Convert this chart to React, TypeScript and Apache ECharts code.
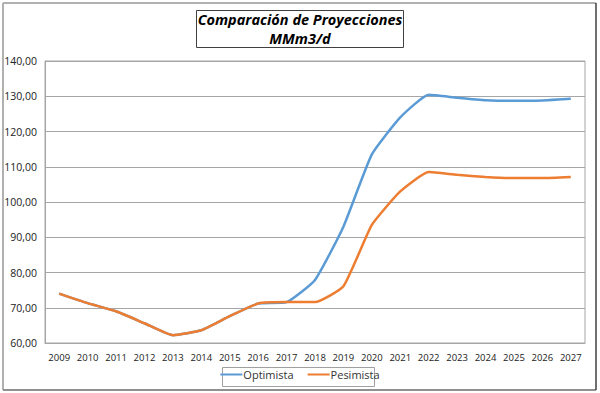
import React, { useEffect, useRef } from "react";
import * as echarts from "echarts";

const years = ["2009","2010","2011","2012","2013","2014","2015","2016","2017","2018","2019","2020","2021","2022","2023","2024","2025","2026","2027"];
const optimista = [74.0, 71.3, 69.0, 65.6, 62.2, 63.6, 67.6, 71.2, 71.6, 77.9, 93.0, 113.5, 124.0, 130.4, 129.6, 128.9, 128.7, 128.8, 129.3];
const pesimista = [74.0, 71.3, 69.0, 65.6, 62.2, 63.6, 67.6, 71.2, 71.6, 71.6, 76.1, 93.5, 103.0, 108.5, 107.7, 107.1, 106.8, 106.8, 107.1];
const titleLines = ["Comparación de Proyecciones", "MMm3/d"];
const seriesNames = ["Optimista", "Pesimista"];

export default function App() {
  const ref = useRef<HTMLDivElement>(null);
  useEffect(() => {
    if (!ref.current) return;
    const chart = echarts.init(ref.current, null, { renderer: "svg" });
    const font = "'Open Sans', 'Liberation Sans', sans-serif";
    const titleFont = "italic bold 14.5px 'Open Sans', 'Liberation Sans', sans-serif";
    chart.setOption({
      animation: false,
      backgroundColor: "#ffffff",
      textStyle: { fontFamily: font },
      graphic: [
        { type: "line", shape: { x1: 3, y1: 3, x2: 596, y2: 3 }, style: { stroke: "#b0b0b0", lineWidth: 2 } },
        { type: "line", shape: { x1: 3, y1: 3, x2: 3, y2: 390 }, style: { stroke: "#b0b0b0", lineWidth: 2 } },
        { type: "line", shape: { x1: 3, y1: 390, x2: 596, y2: 390 }, style: { stroke: "#909090", lineWidth: 2 } },
        { type: "line", shape: { x1: 596, y1: 3, x2: 596, y2: 390 }, style: { stroke: "#404040", lineWidth: 1.5 } },
        { type: "rect", shape: { x: 196.5, y: 10.5, width: 207, height: 37 }, style: { fill: "#ffffff", stroke: "#404040", lineWidth: 1 } },
        {
          type: "text", x: 300, y: 19,
          style: { text: titleLines[0], align: "center", verticalAlign: "middle", font: titleFont, fill: "#000" },
        },
        {
          type: "text", x: 300, y: 38.5,
          style: { text: titleLines[1], align: "center", verticalAlign: "middle", font: titleFont, fill: "#000" },
        },
        { type: "rect", shape: { x: 222.5, y: 367.5, width: 152, height: 19 }, style: { fill: "none", stroke: "#a0a0a0", lineWidth: 1 } },
      ],
      legend: {
        data: seriesNames,
        bottom: 8,
        left: "center",
        itemWidth: 22,
        itemHeight: 2,
        itemGap: 14,
        icon: "rect",
        textStyle: { fontSize: 11, color: "#333", fontFamily: font, padding: [0, 0, 0, -4] },
      },
      grid: { left: 45, right: 15, top: 61, bottom: 50, show: true, borderColor: "#a6a6a6", borderWidth: 1 },
      xAxis: {
        type: "category",
        data: years,
        boundaryGap: true,
        axisLine: { show: true, lineStyle: { color: "#a6a6a6" } },
        axisTick: { show: false },
        axisLabel: { color: "#222", fontSize: 9.5, margin: 9, interval: 0, fontFamily: font },
      },
      yAxis: {
        type: "value",
        min: 60,
        max: 140,
        interval: 10,
        axisLine: { show: true, lineStyle: { color: "#a6a6a6" } },
        axisTick: { show: false },
        splitLine: { lineStyle: { color: "#a6a6a6", width: 1 } },
        axisLabel: {
          color: "#222", fontSize: 10.5, margin: 8, fontFamily: font,
          formatter: (v: number) => v.toFixed(2).replace(".", ","),
        },
      },
      series: [
        { name: seriesNames[0], type: "line", data: optimista, smooth: 0.15, showSymbol: false, lineStyle: { width: 2.5, color: "#5b9bd5" }, itemStyle: { color: "#5b9bd5" } },
        { name: seriesNames[1], type: "line", data: pesimista, smooth: 0.15, showSymbol: false, lineStyle: { width: 2.5, color: "#ed7d31" }, itemStyle: { color: "#ed7d31" } },
      ],
    });
    return () => chart.dispose();
  }, []);
  return <div ref={ref} style={{ position: "absolute", left: 0, top: 0, width: 600, height: 393 }} />;
}
